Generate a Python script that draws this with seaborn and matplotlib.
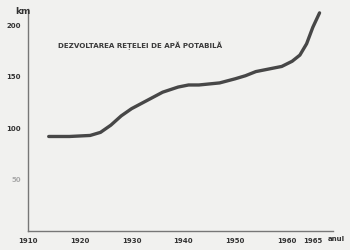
import matplotlib
matplotlib.use("Agg")
import matplotlib.pyplot as plt
import seaborn as sns
import pandas as pd

years = [1914, 1918, 1922, 1924, 1926, 1928, 1930, 1933, 1936, 1939, 1941, 1943, 1947, 1950, 1952, 1954, 1957, 1959, 1961, 1962.5, 1963.8, 1965, 1966.3]
km = [92, 92, 93, 96, 103, 112, 119, 127, 135, 140, 142, 142, 144, 148, 151, 155, 158, 160, 165, 171, 182, 198, 212]
xticks = [1910, 1920, 1930, 1940, 1950, 1960, 1965]
yticks = [50, 100, 150, 200]
title = "DEZVOLTAREA REȚELEI DE APĂ POTABILĂ"

sns.set_style("white")
plt.rcParams['font.family'] = ['DejaVu Sans']

df = pd.DataFrame({"an": years, "km": km})
bg = "#f1f1ef"
fig = plt.figure(figsize=(3.5, 2.5), dpi=100, facecolor=bg)
ax = fig.add_axes([0.08, 0.075, 0.87, 0.89])
ax.set_facecolor(bg)
sns.lineplot(data=df, x="an", y="km", ax=ax, color="#474747", linewidth=2.4)
ax.set_xlim(1910, 1968.8)
ax.set_ylim(0, 216)
ax.set_xticks(xticks)
ax.set_xticklabels([str(t) for t in xticks], fontsize=5, fontweight="bold", color="#333333")
ax.set_yticks(yticks)
ax.set_yticklabels([str(t) for t in yticks], fontsize=5, fontweight="bold", color="#333333")
ax.get_yticklabels()[0].set_color("#aaaaaa")
ax.tick_params(length=2, width=0.8, color="#555555", pad=3, direction="out")
ax.set_xlabel("")
ax.set_ylabel("")
for s in ["top", "right"]:
    ax.spines[s].set_visible(False)
for s in ["left", "bottom"]:
    ax.spines[s].set_color("#777777")
    ax.spines[s].set_linewidth(1.0)
fig.text(0.043, 0.955, "km", fontsize=6.5, fontweight="bold", color="#333333", ha="left", va="center")
fig.text(0.935, 0.043, "anul", fontsize=5, fontweight="bold", color="#333333", ha="left", va="center")
fig.text(0.165, 0.818, title, fontsize=5.1, fontweight="bold", color="#3a3a3a", ha="left", va="center")
fig.savefig("out.png", dpi=100, facecolor=bg)
